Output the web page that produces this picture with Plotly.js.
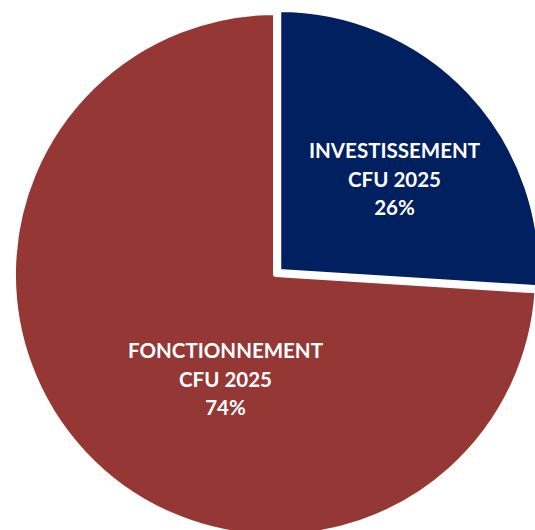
<!DOCTYPE html>
<html>
<head>
<meta charset="utf-8">
<script src="https://cdn.plot.ly/plotly-3.0.1.min.js"></script>
<style>
  html, body { margin: 0; padding: 0; overflow: hidden; background: #ffffff; }
  #chart { width: 550px; height: 550px; }
</style>
</head>
<body>
<div id="chart"></div>
<script>
// Data
var categoryLines = [
  ['INVESTISSEMENT', 'CFU 2025'],
  ['FONCTIONNEMENT', 'CFU 2025']
];
var values = [26, 74];
var colors = ['#002060', '#953735'];
var pulls = [0.017, 0];

var total = values.reduce(function (a, b) { return a + b; }, 0);
var labels = categoryLines.map(function (l) { return l.join(' '); });

// label positions (paper coords) for the in-slice texts
var labelPos = [
  { x: 394 / 550, y: 1 - 178 / 550 },
  { x: 225 / 550, y: 1 - 378 / 550 }
];

var annotations = categoryLines.map(function (lines, i) {
  var pct = Math.round(values[i] / total * 100) + '%';
  var txt = lines.concat([pct]).map(function (s) {
    return '<span style="font-size:20.5px">' + s + '</span>';
  }).join('<br>');
  return {
    xref: 'paper', yref: 'paper',
    x: labelPos[i].x, y: labelPos[i].y,
    xanchor: 'center', yanchor: 'middle',
    text: txt,
    showarrow: false,
    align: 'center',
    font: { family: 'Lato, "Open Sans", sans-serif', size: 22, color: '#ffffff', weight: 'bold' }
  };
});

var trace = {
  type: 'pie',
  labels: labels,
  values: values,
  sort: false,
  direction: 'clockwise',
  rotation: 0,
  pull: pulls,
  marker: { colors: colors, line: { color: '#ffffff', width: 5 } },
  textinfo: 'none',
  hoverinfo: 'skip',
  domain: { x: [9 / 550, 542 / 550], y: [9 / 550, 542 / 550] }
};

var layout = {
  width: 550,
  height: 550,
  margin: { l: 0, r: 0, t: 0, b: 0 },
  showlegend: false,
  paper_bgcolor: '#ffffff',
  annotations: annotations
};

Plotly.newPlot('chart', [trace], layout, { displayModeBar: false, staticPlot: true });
</script>
</body>
</html>
